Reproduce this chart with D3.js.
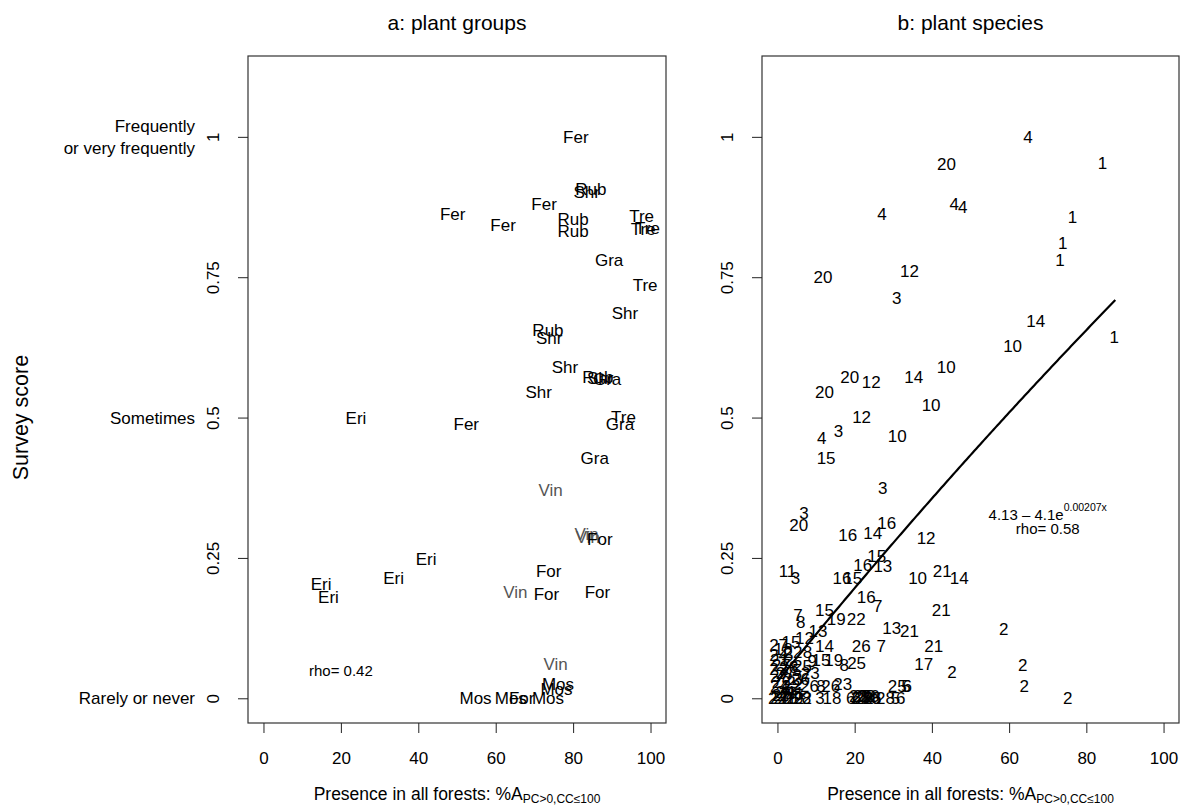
<!DOCTYPE html>
<html>
<head>
<meta charset="utf-8">
<script src="https://cdn.jsdelivr.net/npm/d3@7"></script>
<style>
  body { margin: 0; background: #fff; }
  svg { font-family: "Liberation Sans", Arial, sans-serif; }
  .tick line { stroke: #222; }
</style>
</head>
<body>
<svg id="canvas" width="1191" height="807"></svg>
<script>
// panel a: plant groups
const aLabels = ["Fer","Rub","Shr","Fer","Fer","Fer","Rub","Rub","Tre","Tre","Tre","Gra","Tre","Shr",
  "Rub","Shr","Shr","Shr","Rub","Gra","Shr","Eri","Fer","Tre","Gra","Gra","Vin","Vin","Vin","For",
  "Eri","Eri","Eri","Eri","For","Vin","For","For","Vin","Mos","Mos","Mos","Mos","For","Mos"];
const aX = [80.7,84.6,83.5,72.5,48.9,61.9,80.0,80.0,97.7,98.1,99.2,89.3,98.6,93.4,
  73.5,73.8,77.9,71.1,86.4,88.8,87.0,23.9,52.4,93.0,92.1,85.6,74.2,83.5,83.8,86.9,
  42.0,33.6,14.9,16.8,73.7,65.1,73.1,86.3,75.5,76.1,75.7,54.8,63.9,66.7,73.5];
const aY = [1.0,0.907,0.902,0.880,0.862,0.843,0.854,0.833,0.860,0.836,0.838,0.781,0.737,0.686,
  0.657,0.642,0.590,0.545,0.573,0.569,0.571,0.5,0.489,0.501,0.489,0.428,0.372,0.292,0.288,0.284,
  0.249,0.215,0.203,0.181,0.227,0.189,0.186,0.190,0.062,0.026,0.017,0,0,0,0];

// panel b: plant species (numbers)
const bLabels = ["4","20","1","4","4","4","1","1","1","12","20","3","14","1","10",
  "20","12","20","14","10","10","12","3","4","10","15","3","3","20","16","14","16","12",
  "15","16","13","11","3","16","15","10","21","14","16","7","21","15","7","8","19","22",
  "12","13","13","21","14","26","7","21","17","2","2","2","2","2",
  "25","8","19","15","25","5","6","23","26","8","26",
  "27","15","24","22","8","21","2","9","22","27","7","5","27","2","24","22","2",
  "27","28","23","22","26","24","21","18","25","23",
  "24","27","22","21","2","12","9","22","8","3","18","6","6","28","22","8","26","8","28","5","6",
  "23","25","22","26","27","24"];
const bX = [64.9,43.8,84.2,45.8,48.0,27.1,76.4,73.9,73.2,34.2,11.8,30.9,66.9,87.2,60.9,
  18.7,24.3,12.2,35.3,43.7,39.8,21.8,15.8,11.5,31.0,12.6,27.3,6.9,5.5,18.2,24.7,28.3,38.5,
  25.7,22.1,27.3,2.6,4.7,16.7,19.5,36.3,42.7,47.1,23.0,26.0,42.4,12.2,5.3,6.0,15.2,20.4,
  7.0,10.5,29.6,34.2,12.2,21.7,26.9,40.5,37.9,58.6,45.2,63.5,63.9,75.2,
  20.5,17.3,14.6,11.3,31.0,33.3,33.6,16.9,13.8,11.3,8.3,
  0.3,3.5,0.3,4.0,7.8,0.5,3.0,9.0,0.3,2.0,7.5,5.0,0.5,3.5,0.5,3.5,5.5,
  1.0,3.0,4.0,1.0,6.0,2.0,4.5,1.5,6.5,8.5,
  0,0.5,1.5,2.5,3.5,4.5,5.5,6.5,7.5,11.0,14.1,19.0,20.5,21.5,22.5,23.5,24.5,25.5,28.0,30.6,31.9,
  21.0,22.0,23.0,24.0,1.0,3.0];
const bY = [1.0,0.951,0.954,0.880,0.875,0.862,0.857,0.812,0.780,0.762,0.750,0.714,0.673,0.644,0.628,
  0.572,0.563,0.546,0.572,0.590,0.523,0.501,0.477,0.464,0.468,0.428,0.375,0.330,0.308,0.291,0.295,0.313,0.286,
  0.253,0.238,0.235,0.227,0.215,0.215,0.215,0.215,0.227,0.215,0.181,0.164,0.158,0.158,0.149,0.136,0.141,0.142,
  0.108,0.120,0.126,0.120,0.094,0.093,0.094,0.094,0.062,0.124,0.047,0.060,0.023,0.0,
  0.063,0.060,0.069,0.068,0.023,0.023,0.023,0.025,0.023,0.023,0.023,
  0.096,0.100,0.078,0.083,0.083,0.068,0.068,0.066,0.052,0.045,0.042,0.050,0.040,0.030,0.023,0.023,0.025,
  0.060,0.056,0.035,0.030,0.035,0.012,0.010,0.088,0.057,0.045,
  0,0,0,0,0,0,0,0,0,0,0,0,0,0,0,0,0,0,0,0,0,
  0.004,0.004,0.004,0.004,0.006,0.006];

// fitted curve in panel b: y = fitA - fitB * exp(-fitC * x)
const fitA = 4.13, fitB = 4.1, fitC = 0.00207;
const fitRange = [0, 87.6];

const xTicks = [0, 20, 40, 60, 80, 100];
const yTicks = [0, 0.25, 0.5, 0.75, 1];
const yTickText = ["0", "0.25", "0.5", "0.75", "1"];
const yWords = [["Rarely or never"], ["Sometimes"], ["Frequently", "or very frequently"]];
const yWordAt = [0, 0.5, 1];

const svg = d3.select("#canvas");
const plotTop = 56, plotBottom = 723;

const yScale = d3.scaleLinear().domain([-0.044, 1.144]).range([plotBottom, plotTop]);

const drawPanel = (left, right, title, labels, xs, ys) => {
  const xScale = d3.scaleLinear().domain([-4, 104]).range([left, right]);
  const g = svg.append("g");

  g.append("rect")
    .attr("x", left).attr("y", plotTop)
    .attr("width", right - left).attr("height", plotBottom - plotTop)
    .attr("fill", "none").attr("stroke", "#333").attr("stroke-width", 1.2);

  const xAxis = g.append("g")
    .attr("transform", `translate(0,${plotBottom})`)
    .call(d3.axisBottom(xScale).tickValues(xTicks).tickSize(10).tickPadding(19));
  xAxis.select(".domain").remove();
  xAxis.selectAll("text").attr("font-size", 17).attr("fill", "#000")
    .attr("font-family", "Liberation Sans, Arial, sans-serif");

  const yAxis = g.append("g")
    .attr("transform", `translate(${left},0)`)
    .call(d3.axisLeft(yScale).tickValues(yTicks).tickSize(10)
      .tickFormat((d, i) => yTickText[i]));
  yAxis.select(".domain").remove();
  yAxis.selectAll("text")
    .attr("x", null).attr("dy", null)
    .attr("transform", "translate(-29,0) rotate(-90)")
    .attr("text-anchor", "middle")
    .attr("font-size", 17).attr("fill", "#000")
    .attr("font-family", "Liberation Sans, Arial, sans-serif");

  g.append("text")
    .attr("x", (left + right) / 2).attr("y", 30)
    .attr("text-anchor", "middle").attr("font-size", 21)
    .text(title);

  const xl = g.append("text")
    .attr("x", (left + right) / 2).attr("y", 800)
    .attr("text-anchor", "middle").attr("font-size", 17.5);
  xl.append("tspan").text("Presence in all forests: %A");
  xl.append("tspan").attr("font-size", 12).attr("dy", 3).text("PC>0,CC≤100");

  g.selectAll("text.lab")
    .data(labels.map((d, i) => ({ t: d, x: xs[i], y: ys[i] })))
    .enter()
    .append("text")
    .attr("class", "lab")
    .attr("x", (d) => xScale(d.x))
    .attr("y", (d) => yScale(d.y))
    .attr("dy", "0.36em")
    .attr("text-anchor", "middle")
    .attr("font-size", 17)
    .attr("fill", (d) => (d.t === "Vin" ? "#555" : "#000"))
    .text((d) => d.t);

  return { g, xScale };
};

const pa = drawPanel(248, 666, "a: plant groups", aLabels, aX, aY);
const pb = drawPanel(762, 1179, "b: plant species", bLabels, bX, bY);

// words next to the left axis of panel a
yWords.forEach((lines, i) => {
  const t = svg.append("text")
    .attr("x", 195)
    .attr("y", yScale(yWordAt[i]) + 6 - (lines.length - 1) * 11)
    .attr("text-anchor", "end").attr("font-size", 17).attr("fill", "#000");
  lines.forEach((l, j) => {
    t.append("tspan").attr("x", 195).attr("dy", j ? 22 : 0).text(l);
  });
});

svg.append("text")
  .attr("transform", `translate(28,${yScale(0.5)}) rotate(-90)`)
  .attr("text-anchor", "middle").attr("font-size", 21.5)
  .text("Survey score");

// rho in panel a
pa.g.append("text")
  .attr("x", pa.xScale(20)).attr("y", yScale(0.05))
  .attr("dy", "0.36em").attr("text-anchor", "middle").attr("font-size", 15)
  .text("rho= 0.42");

// fitted curve in panel b
const curve = d3.range(fitRange[0], fitRange[1] + 0.01, 0.5).map((x) => [x, fitA - fitB * Math.exp(-fitC * x)]);
pb.g.append("path")
  .datum(curve)
  .attr("fill", "none").attr("stroke", "#000").attr("stroke-width", 2.2)
  .attr("d", d3.line().x((d) => pb.xScale(d[0])).y((d) => yScale(d[1])));

const eq = pb.g.append("text")
  .attr("x", pb.xScale(70)).attr("y", yScale(0.318))
  .attr("text-anchor", "middle").attr("font-size", 15);
eq.append("tspan").text(`${fitA} \u2013 ${fitB}e`);
eq.append("tspan").attr("font-size", 10.5).attr("dy", -9).text(`${fitC}x`);

pb.g.append("text")
  .attr("x", pb.xScale(70)).attr("y", yScale(0.292))
  .attr("text-anchor", "middle").attr("font-size", 15)
  .text("rho= 0.58");
</script>
</body>
</html>
